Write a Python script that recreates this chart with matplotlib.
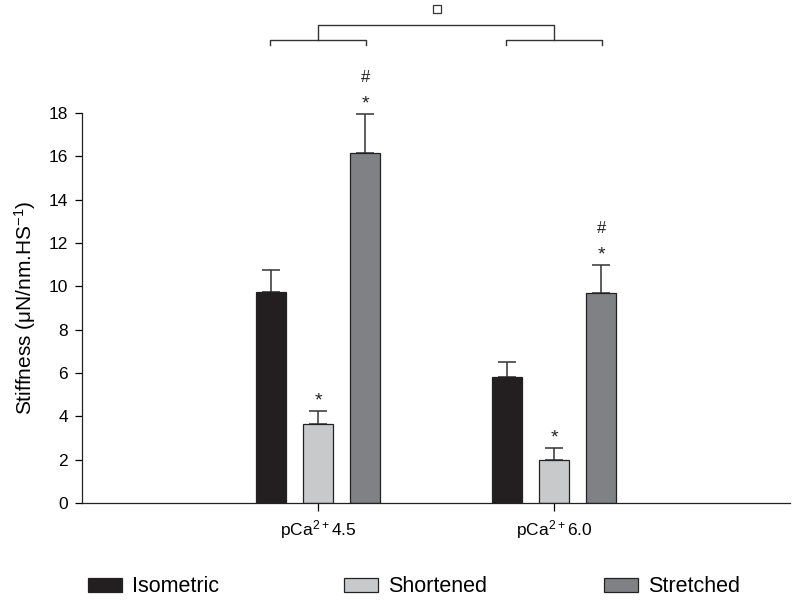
import numpy as np
import matplotlib.pyplot as plt
from matplotlib.patches import Patch

plt.rcParams['font.family'] = ['Liberation Sans', 'DejaVu Sans']
plt.rcParams['mathtext.default'] = 'regular'

# data
groups = ['pCa$^{2+}$4.5', 'pCa$^{2+}$6.0']
series = ['Isometric', 'Shortened', 'Stretched']
isometric = [9.72, 5.80]
shortened = [3.65, 1.98]
stretched = [16.15, 9.70]
isometric_err = [1.02, 0.72]
shortened_err = [0.60, 0.56]
stretched_err = [1.80, 1.28]
# significance marks above each bar (group, series index, text)
marks = [(0, 1, '*'), (0, 2, '*'), (0, 2, '#'), (1, 1, '*'), (1, 2, '*'), (1, 2, '#')]

colors = ['#231f20', '#c8c9cb', '#808184']
values = [isometric, shortened, stretched]
errors = [isometric_err, shortened_err, stretched_err]

fig = plt.figure(figsize=(7.96, 6.01), dpi=100)
ax = fig.add_axes([0.103, 0.163, 0.8895, 0.649])

x = np.array([1, 2])
offsets = [-0.2, 0.0, 0.2]
width = 0.125
for vals, errs, col, off, name in zip(values, errors, colors, offsets, series):
    ax.bar(x + off, vals, width, color=col, edgecolor='#222222', linewidth=0.9,
           label=name, zorder=2)
    ax.errorbar(x + off, vals, yerr=[np.zeros(2), errs], fmt='none',
                ecolor='#333333', elinewidth=1.1, capsize=6.8, capthick=1.1, zorder=1)

# stars and hashes above bars
for g, s, txt in marks:
    top = values[s][g] + errors[s][g]
    if txt == '*':
        ax.text(x[g] + offsets[s], top + 0.45, txt, ha='center', va='center',
                fontsize=14, color='#222222', clip_on=False)
    else:
        ax.text(x[g] + offsets[s], top + 1.7, txt, ha='center', va='center',
                fontsize=12, color='#222222', clip_on=False)

# comparison brackets at the top
lw = 1.0
bc = '#333333'
for g in range(2):
    xl, xr = x[g] + offsets[0] - 0.005, x[g] + offsets[2] + 0.005
    ax.plot([xl, xl, xr, xr], [21.15, 21.37, 21.37, 21.15], color=bc, lw=lw, clip_on=False)
ax.plot([x[0], x[0], x[1], x[1]], [21.37, 22.06, 22.06, 21.37], color=bc, lw=lw,
        clip_on=False)
ax.plot([1.5 + 0.005], [22.8], marker='s', ms=6, mfc='white', mec='#333333', mew=0.9,
        clip_on=False)

ax.set_xlim(0, 3)
ax.set_ylim(0, 18)
ax.set_yticks(np.arange(0, 19, 2))
ax.set_xticks(x)
ax.set_xticklabels(groups, fontsize=12.5)
ax.tick_params(axis='y', labelsize=12.5, length=5, width=0.9, direction='out', pad=5)
ax.tick_params(axis='x', length=6, width=0.9, direction='out', pad=5)
ax.set_ylabel('Stiffness (μN/nm.HS$^{-1}$)', fontsize=15, labelpad=8)
for side in ['top', 'right']:
    ax.spines[side].set_visible(False)
for side in ['left', 'bottom']:
    ax.spines[side].set_linewidth(0.9)
    ax.spines[side].set_color('#222222')

# legend entries placed separately along the bottom
leg_x = [88, 344, 604]
for name, col, lx in zip(series, colors, leg_x):
    fig.legend(handles=[Patch(facecolor=col, edgecolor='#222222', linewidth=0.9)],
               labels=[name], loc='center left',
               bbox_to_anchor=(lx / 796, 1 - 587 / 601), frameon=False,
               fontsize=15.5, handlelength=1.6, handleheight=0.65,
               handletextpad=0.45, borderpad=0, borderaxespad=0)

fig.savefig('out.png', dpi=100)
